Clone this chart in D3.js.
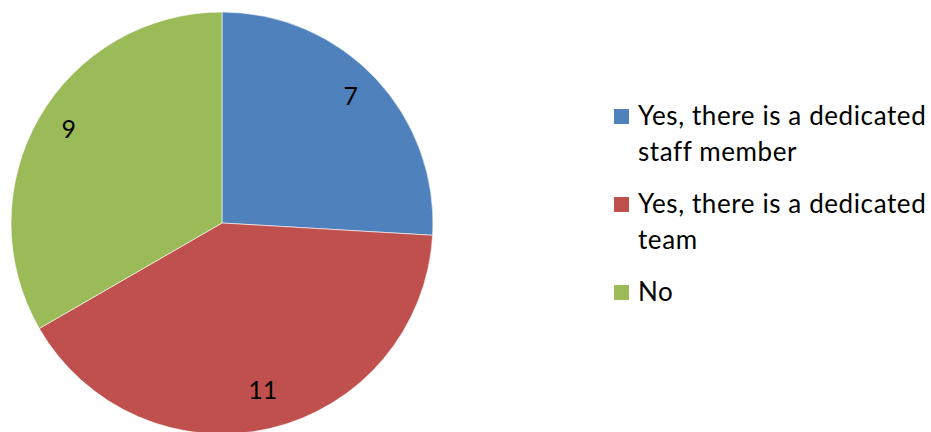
<!DOCTYPE html>
<html>
<head>
<meta charset="utf-8">
<script src="https://cdn.jsdelivr.net/npm/d3@7"></script>
<style>
  body { margin: 0; background: #fff; }
  text { font-family: Lato, "Open Sans", sans-serif; fill: #000; }
</style>
</head>
<body>
<div id="chart"></div>
<script>
var categories = ["Yes, there is a dedicated staff member", "Yes, there is a dedicated team", "No"];
var legendLines = [["Yes, there is a dedicated", "staff member"], ["Yes, there is a dedicated", "team"], ["No"]];
var values = [7, 11, 9];
var colors = ["#4F81BD", "#C0504D", "#9BBB59"];

var svgWidth = 931;
var svgHeight = 432;
var radius = 211;
var cx = 222, cy = 223;

var svg = d3.select("#chart")
  .append("svg")
  .attr("width", svgWidth)
  .attr("height", svgHeight);

var pieGroup = svg.append("g")
  .attr("transform", `translate(${cx}, ${cy})`);

var pie = d3.pie().sort(null).value(d => d);
var arc = d3.arc().innerRadius(0).outerRadius(radius);
var labelArc = d3.arc().innerRadius(177).outerRadius(177);

var slices = pie(values);

pieGroup.selectAll("path")
  .data(slices)
  .enter()
  .append("path")
  .attr("d", arc)
  .attr("fill", (d, i) => colors[i])
  .attr("stroke", "#fff")
  .attr("stroke-width", 0.6);

pieGroup.selectAll("text.lbl")
  .data(slices)
  .enter()
  .append("text")
  .attr("class", "lbl")
  .attr("transform", d => `translate(${labelArc.centroid(d)})`)
  .attr("text-anchor", "middle")
  .attr("dy", "0.15em")
  .style("font-size", "25px")
  .text(d => d.data);

var legend = svg.append("g")
  .attr("transform", "translate(614, 109)");

var items = legend.selectAll("g")
  .data(categories)
  .enter()
  .append("g")
  .attr("transform", (d, i) => `translate(0, ${i * 88})`);

items.append("rect")
  .attr("width", 15)
  .attr("height", 15)
  .attr("fill", (d, i) => colors[i]);

items.append("text")
  .attr("x", 24)
  .attr("y", 16)
  .style("font-size", "26px")
  .style("letter-spacing", "0.6px")
  .selectAll("tspan")
  .data((d, i) => legendLines[i])
  .enter()
  .append("tspan")
  .attr("x", 24)
  .attr("dy", (d, j) => j === 0 ? 0 : 36)
  .text(d => d);
</script>
</body>
</html>
